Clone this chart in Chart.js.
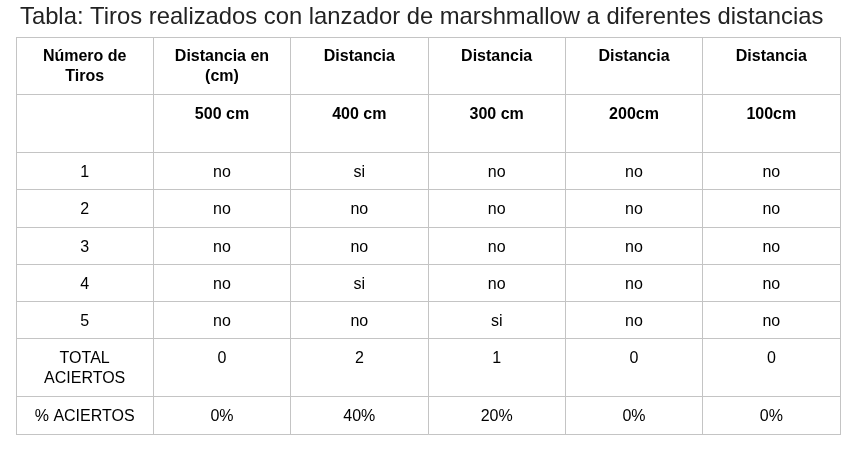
<!DOCTYPE html>
<html>
<head>
<meta charset="utf-8">
<script src="https://cdn.jsdelivr.net/npm/chart.js@4"></script>
<style>
  html, body { margin: 0; padding: 0; background: #fff; }
  #wrap { width: 861px; height: 450px; position: relative; }
</style>
</head>
<body>
<div id="wrap"><canvas id="tabla"></canvas></div>
<script>
var titulo = 'Tabla: Tiros realizados con lanzador de marshmallow a diferentes distancias';

var encabezados = [['Número de', 'Tiros'], ['Distancia en', '(cm)'], ['Distancia'], ['Distancia'], ['Distancia'], ['Distancia']];
var distancias = ['500 cm', '400 cm', '300 cm', '200cm', '100cm'];
var tiros = ['1', '2', '3', '4', '5'];

var tiros500 = ['no', 'no', 'no', 'no', 'no'];
var tiros400 = ['si', 'no', 'no', 'si', 'no'];
var tiros300 = ['no', 'no', 'no', 'no', 'si'];
var tiros200 = ['no', 'no', 'no', 'no', 'no'];
var tiros100 = ['no', 'no', 'no', 'no', 'no'];

var totalAciertos = [0, 2, 1, 0, 0];
var porcentajeAciertos = [0, 40, 20, 0, 0];

// alto de cada fila (unidades del eje y)
var altoFilas = [1.555, 1.555, 1, 1, 1, 1, 1, 1.555, 1];

// armar las filas de la tabla
var columnasTiros = [tiros500, tiros400, tiros300, tiros200, tiros100];
var filas = [];
filas.push({ bold: true, celdas: encabezados });
filas.push({ bold: true, celdas: [['']].concat(distancias.map(function (d) { return [d]; })) });
for (var i = 0; i < tiros.length; i++) {
    var f = [[tiros[i]]];
    columnasTiros.forEach(function (c) { f.push([c[i]]); });
    filas.push({ bold: false, celdas: f });
}
filas.push({ bold: false, celdas: [['TOTAL', 'ACIERTOS']].concat(totalAciertos.map(function (v) { return [String(v)]; })) });
filas.push({ bold: false, celdas: [['% ACIERTOS']].concat(porcentajeAciertos.map(function (v) { return [v + '%']; })) });

var limitesFilas = [0];
altoFilas.forEach(function (h) { limitesFilas.push(limitesFilas[limitesFilas.length - 1] + h); });
var totalAlto = limitesFilas[limitesFilas.length - 1];

var textoTabla = {
    id: 'textoTabla',
    afterDraw: function (chart) {
        var ctx = chart.ctx;
        var xs = chart.scales.x;
        var ys = chart.scales.y;
        ctx.save();
        ctx.fillStyle = '#222';
        ctx.font = '23.8px "Liberation Sans", Arial, sans-serif';
        ctx.textAlign = 'left';
        ctx.textBaseline = 'alphabetic';
        ctx.fillText(titulo, 20, 24);

        ctx.textAlign = 'center';
        ctx.textBaseline = 'middle';
        filas.forEach(function (fila, r) {
            ctx.font = (fila.bold ? 'bold ' : '') + '16px "Liberation Sans", Arial, sans-serif';
            ctx.fillStyle = '#000';
            var top = ys.getPixelForValue(limitesFilas[r]);
            fila.celdas.forEach(function (lineas, c) {
                var cx = xs.getPixelForValue(c + 0.5);
                lineas.forEach(function (t, k) {
                    ctx.fillText(t, cx, top + 20 + k * 20);
                });
            });
        });
        ctx.restore();
    }
};

new Chart(document.getElementById('tabla'), {
    type: 'scatter',
    data: { datasets: [] },
    options: {
        responsive: true,
        maintainAspectRatio: false,
        animation: false,
        events: [],
        layout: { padding: { top: 37, left: 16, right: 21, bottom: 16 } },
        plugins: { legend: { display: false }, tooltip: { enabled: false }, title: { display: false } },
        scales: {
            x: {
                type: 'linear', min: 0, max: encabezados.length,
                ticks: { display: false, stepSize: 1 },
                grid: { color: '#c4c4c4', lineWidth: 1, drawTicks: false },
                border: { color: '#c4c4c4' }
            },
            y: {
                type: 'linear', min: 0, max: totalAlto, reverse: true,
                afterBuildTicks: function (axis) {
                    axis.ticks = limitesFilas.map(function (v) { return { value: v }; });
                },
                ticks: { display: false },
                grid: { color: '#c4c4c4', lineWidth: 1, drawTicks: false },
                border: { color: '#c4c4c4' }
            }
        }
    },
    plugins: [textoTabla]
});
</script>
</body>
</html>
